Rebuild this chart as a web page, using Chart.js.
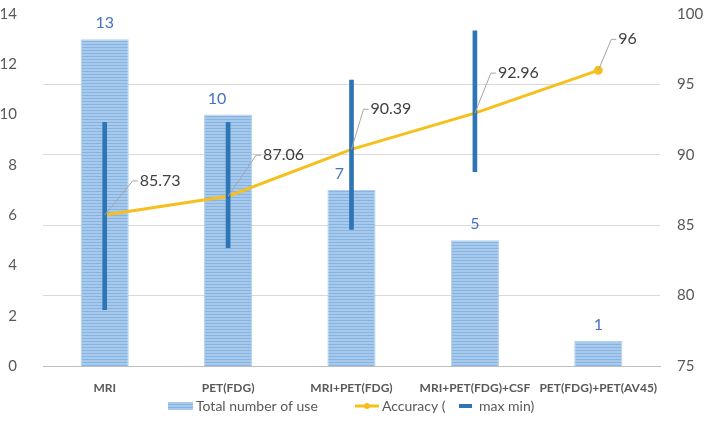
<!DOCTYPE html>
<html>
<head>
<meta charset="utf-8">
<style>
  html, body { margin: 0; padding: 0; background: #fff; }
  #wrap { width: 709px; height: 428px; }
</style>
</head>
<body>
<div id="wrap">
    <canvas id="myChart" width="709" height="428"></canvas>
</div>

<script src="https://cdn.jsdelivr.net/npm/chart.js"></script>

<script>
    const categories = ['MRI', 'PET(FDG)', 'MRI+PET(FDG)', 'MRI+PET(FDG)+CSF', 'PET(FDG)+PET(AV45)'];
    const totalUse = [13, 10, 7, 5, 1];
    const accuracy = [85.73, 87.06, 90.39, 92.96, 96];
    const accMax = [92.3, 92.3, 95.3, 98.8, null];
    const accMin = [79.0, 83.4, 84.7, 88.8, null];

    const FONT = 'Lato, "Open Sans", sans-serif';
    const ctx = document.getElementById('myChart');

    // horizontal stripe fill for the bars
    function stripes() {
        const c = document.createElement('canvas');
        c.width = 4; c.height = 3;
        const g = c.getContext('2d');
        g.fillStyle = '#a7c9ec';
        g.fillRect(0, 0, 4, 3);
        g.fillStyle = '#88b4e2';
        g.fillRect(0, 2, 4, 1);
        return g.createPattern(c, 'repeat');
    }
    const barFill = stripes();

    // nudges for the value labels (x only) and the accuracy call-outs
    const barLabelShift = [0, -11, -12, 0, 0];
    const calloutOffset = [[35, -34], [35, -41], [19, -40], [23, -40], [20, -31]];

    const labelsPlugin = {
        id: 'labelsPlugin',
        afterDatasetsDraw(chart) {
            const c = chart.ctx;
            c.save();
            // bar values
            const barMeta = chart.getDatasetMeta(0);
            c.font = '16px ' + FONT;
            c.fillStyle = '#4472c4';
            c.textAlign = 'center';
            c.textBaseline = 'middle';
            barMeta.data.forEach((el, i) => {
                c.fillText(String(totalUse[i]), el.x + barLabelShift[i], el.y - 16);
            });
            // accuracy call-outs
            const lineMeta = chart.getDatasetMeta(1);
            c.textAlign = 'left';
            c.fillStyle = '#404040';
            c.strokeStyle = '#a6a6a6';
            c.lineWidth = 1;
            lineMeta.data.forEach((el, i) => {
                const [dx, dy] = calloutOffset[i];
                const tx = el.x + dx, ty = el.y + dy;
                c.beginPath();
                c.moveTo(el.x, el.y);
                c.lineTo(tx - 7, ty);
                c.lineTo(tx - 2, ty);
                c.stroke();
                c.fillText(String(accuracy[i]), tx, ty);
            });
            c.restore();
        },
        afterDraw(chart) {
            // legend
            const c = chart.ctx;
            const y = 406;
            c.save();
            c.fillStyle = barFill;
            c.fillRect(168, y - 4, 25, 8);
            c.font = '14px ' + FONT;
            c.fillStyle = '#595959';
            c.textBaseline = 'middle';
            c.textAlign = 'left';
            c.fillText('Total number of use', 196, y);
            c.strokeStyle = '#f5bf1c';
            c.lineWidth = 3;
            c.beginPath();
            c.moveTo(355, y); c.lineTo(379, y); c.stroke();
            c.fillStyle = '#f5bf1c';
            c.beginPath(); c.arc(367, y, 3, 0, Math.PI * 2); c.fill();
            c.fillStyle = '#595959';
            c.fillText('Accuracy (', 382, y);
            c.fillStyle = '#2e75b6';
            c.fillRect(459, y - 2, 13, 4);
            c.fillStyle = '#595959';
            c.fillText('max min)', 479, y);
            c.restore();
        }
    };

    function fixVertical(width) {
        return (s) => {
            s.width = width;
            s.paddingTop = 14;
            s.paddingBottom = 0;
        };
    }

    new Chart(ctx, {
        data: {
            labels: categories,
            datasets: [{
                type: 'bar',
                label: 'Total number of use',
                data: totalUse,
                yAxisID: 'y',
                backgroundColor: barFill,
                borderColor: '#b3d1f0',
                borderWidth: 1,
                categoryPercentage: 1,
                barPercentage: 0.39,
                grouped: false,
                order: 3
            }, {
                type: 'line',
                label: 'Accuracy (',
                data: accuracy,
                yAxisID: 'y1',
                borderColor: '#f5bf1c',
                backgroundColor: '#f5bf1c',
                borderWidth: 3,
                pointRadius: (c) => c.dataIndex === accuracy.length - 1 ? 3 : 0,
                tension: 0,
                order: 2
            }, {
                type: 'bar',
                label: 'max min)',
                data: accMin.map((v, i) => v === null ? null : [v, accMax[i]]),
                yAxisID: 'y1',
                backgroundColor: '#2e75b6',
                borderWidth: 0,
                barThickness: 4,
                grouped: false,
                order: 1
            }]
        },
        options: {
            responsive: false,
            animation: false,
            layout: { padding: { top: 0, bottom: 22, left: 0, right: 0 } },
            plugins: {
                legend: { display: false },
                tooltip: { enabled: false }
            },
            scales: {
                x: {
                    grid: { display: false },
                    border: { color: '#bfbfbf', width: 1 },
                    ticks: {
                        color: '#595959',
                        font: { family: FONT, size: 12, weight: 'bold' },
                        padding: 7,
                        maxRotation: 0,
                        autoSkip: false
                    },
                    afterFit(s) { s.height = 40; }
                },
                y: {
                    position: 'left',
                    min: 0, max: 14,
                    ticks: { stepSize: 2, color: '#595959', font: { family: FONT, size: 15 }, padding: 18 },
                    grid: { display: false },
                    border: { display: false },
                    afterFit: fixVertical(43)
                },
                y1: {
                    position: 'right',
                    min: 75, max: 100,
                    ticks: { stepSize: 5, color: '#595959', font: { family: FONT, size: 15 }, padding: 17 },
                    grid: {
                        color: (c) => c.tick && c.tick.value === 100 ? 'rgba(0,0,0,0)' : '#d9d9d9',
                        drawTicks: false
                    },
                    border: { display: false },
                    afterFit: fixVertical(49)
                }
            }
        },
        plugins: [labelsPlugin]
    });
</script>
</body>
</html>
